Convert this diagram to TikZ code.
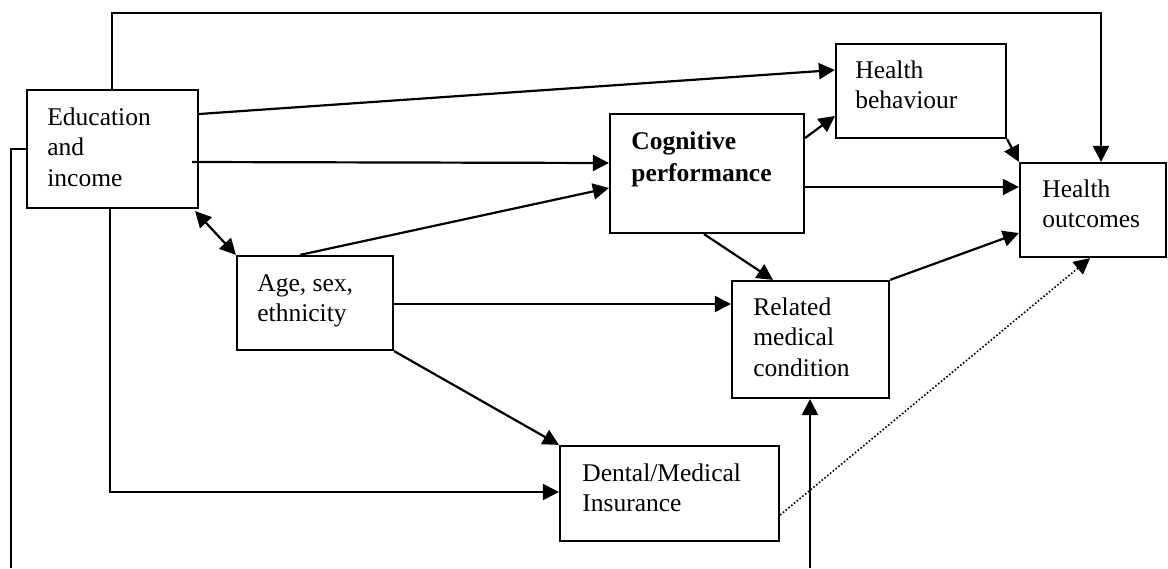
\documentclass[tikz,border=0pt]{standalone}
\usepackage{fontspec}
\setmainfont{Liberation Serif}
\usetikzlibrary{arrows.meta,fit,calc}

% stacked lines whose baseline is that of the first line
\newcommand\linesof[1]{\begin{tabular}[t]{@{}l@{}}#1\end{tabular}}

\tikzset{
  tip/.tip={Triangle[length=8pt,width=8pt]},
  box/.style={draw, line width=1.1pt, inner sep=0pt, rectangle},
  txt/.style={inner sep=0pt, anchor=base west, font=\fontsize{12.75}{15.25}\selectfont},
  link/.style={line width=1.1pt, -tip},
  plain/.style={line width=1.1pt},
  weak/.style={line width=0.8pt, densely dotted, -tip}
}

\begin{document}
\begin{tikzpicture}[x=0.5pt,y=-0.5pt]
\fill[white] (0,0) rectangle (1168,568);
\useasboundingbox (0,0) rectangle (1168,568);

% boxes
\node[box, fit={(27,90) (198,208)}]   (edu) {};
\node[box, fit={(836,44) (1006,138)}] (hb)  {};
\node[box, fit={(610,114) (804,233)}] (cog) {};
\node[box, fit={(1020,163) (1166,257)}] (ho) {};
\node[box, fit={(237,256) (393,350)}] (age) {};
\node[box, fit={(732,281) (889,398)}] (rel) {};
\node[box, fit={(560,446) (779,541)}] (den) {};

% labels
\node[txt] (edutxt) at (47,125)  {\linesof{Education\\and\\income}};
\node[txt] (hbtxt)  at (855,78)  {\linesof{Health\\behaviour}};
\node[txt, font=\fontsize{12.75}{16}\selectfont\bfseries] (cogtxt) at (631,149) {\linesof{Cognitive\\performance}};
\node[txt] (hotxt)  at (1042,197) {\linesof{Health\\outcomes}};
\node[txt] (agetxt) at (257,291) {\linesof{Age, sex,\\ethnicity}};
\node[txt] (reltxt) at (753,315) {\linesof{Related\\medical\\condition}};
\node[txt] (dentxt) at (582,481) {\linesof{Dental/Medical\\Insurance}};

% free ends running off the lower edge
\coordinate (leftend) at (11,568);
\coordinate (upstart) at (810,568);

% connectors
\draw[link] (edu.north -| 112,0) -- (112,13) -| (ho.north -| 1101,0);
\draw[link] (edu.east |- 0,114) -- (hb.west |- 0,70);
\draw[link] ($(edu.east |- 0,162)+(-7,0)$) -- (cog.west |- 0,163);
\draw[line width=1.1pt, tip-tip] ($(edu.south east)+(-4,2)$) -- (age.north west);
\draw[link] (age.north -| 300,0) -- (cog.west |- 0,188);
\draw[link] (age.east |- 0,304) -- (rel.west |- 0,304);
\draw[link] (age.south east) -- (den.north west);
\draw[link] (edu.south -| 110,0) |- (den.west |- 0,492);
\draw[plain] (edu.west |- 0,149) -| (leftend);
\draw[link] (upstart) -- (rel.south -| 810,0);
\draw[link] (cog.south -| 704,0) -- (rel.north -| 773,0);
\draw[link] (cog.east |- 0,138) -- (hb.west |- 0,116);
\draw[link] (cog.east |- 0,187) -- (ho.west |- 0,187);
\draw[link] (hb.south east) -- (ho.north west);
\draw[link] (rel.north east) -- (ho.west |- 0,233);
\draw[weak] (den.east |- 0,515) -- (ho.south -| 1090,0);
\end{tikzpicture}
\end{document}
